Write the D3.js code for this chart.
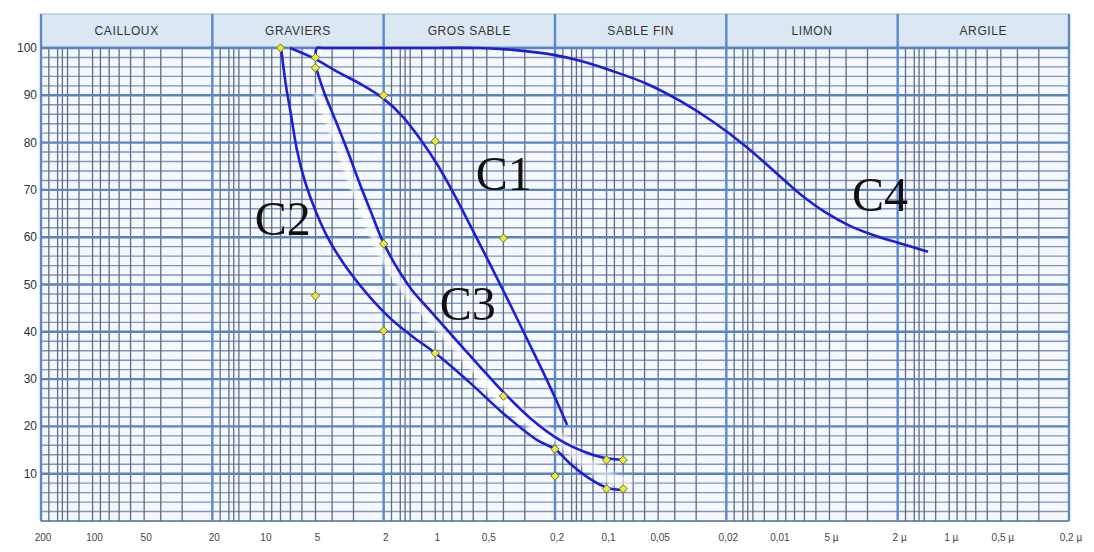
<!DOCTYPE html>
<html>
<head>
<meta charset="utf-8">
<script src="https://cdn.jsdelivr.net/npm/d3@7"></script>
<style>
  html, body { margin: 0; padding: 0; background: #fff; }
  svg { display: block; }
</style>
</head>
<body>
<svg id="chart"></svg>
<script>
// grain size classes (mm bounds)
const classNames = ["CAILLOUX", "GRAVIERS", "GROS SABLE", "SABLE FIN", "LIMON", "ARGILE"];
const classBounds = [200, 20, 2, 0.2, 0.02, 0.002, 0.0002];

const tickValues = [200, 100, 50, 20, 10, 5, 2, 1, 0.5, 0.2, 0.1, 0.05, 0.02, 0.01, 0.005, 0.002, 0.001, 0.0005, 0.0002];
const tickLabels = ["200", "100", "50", "20", "10", "5", "2", "1", "0,5", "0,2", "0,1", "0,05", "0,02", "0,01", "5 µ", "2 µ", "1 µ", "0,5 µ", "0,2 µ"];
const yTicks = [100, 90, 80, 70, 60, 50, 40, 30, 20, 10];

// curves: diameter (mm) / percent passing
const c1Diam = [7.04, 5.17, 3.69, 2.67, 2.02, 1.54, 1.21, 0.963, 0.766, 0.609, 0.479, 0.376, 0.295, 0.232, 0.192, 0.17];
const c1Pct  = [100, 97.9, 94.9, 92.2, 89.4, 85.4, 80.5, 75.1, 68.7, 61.7, 54.3, 46.7, 38.9, 31.1, 24.7, 20.3];

const c2Diam = [7.94, 7.43, 6.94, 6.41, 5.75, 4.96, 4.11, 3.23, 2.47, 1.835, 1.347, 1.0, 0.626, 0.402, 0.254, 0.2, 0.163, 0.125, 0.099, 0.079];
const c2Pct  = [100, 92.0, 85.8, 78.4, 71.7, 65.3, 59.0, 53.1, 47.8, 42.9, 38.9, 35.5, 29.2, 22.8, 17.1, 15.2, 12.1, 8.9, 7.0, 6.6];

const c3Diam = [4.96, 4.46, 3.79, 3.23, 2.75, 2.37, 2.04, 1.72, 1.365, 1.043, 0.766, 0.547, 0.407, 0.28, 0.187, 0.134, 0.102, 0.08];
const c3Pct  = [95.8, 90.7, 84.4, 78.0, 71.2, 65.3, 59.4, 54.3, 48.8, 44.0, 38.5, 32.6, 27.5, 21.8, 17.1, 14.6, 13.3, 12.9];

const c4Diam = [5.0, 4.9, 4.5, 2, 1, 0.547, 0.351, 0.2, 0.143, 0.0916, 0.058, 0.0372, 0.0239, 0.0155, 0.0104, 0.0074, 0.0053, 0.0038, 0.0027, 0.0019, 0.00133];
const c4Pct  = [98.2, 100, 100, 100, 100, 100, 99.6, 98.5, 97.3, 95.1, 92.4, 88.8, 84.4, 79.3, 73.8, 69.1, 65.3, 62.4, 60.3, 58.6, 56.9];

// measured sample points
const markerDiam = [8, 5, 5, 2, 1, 0.4, 5, 2, 2, 1, 0.4, 0.2, 0.2, 0.1, 0.08, 0.1, 0.08];
const markerPct  = [100, 98, 95.8, 90, 80.3, 59.8, 47.6, 58.6, 40.2, 35.5, 26.4, 15.2, 9.5, 12.9, 12.9, 6.8, 6.8];

const labelNames = ["C1", "C2", "C3", "C4"];
const labelDiam = [0.58, 11.3, 0.94, 0.0037];
const labelPct  = [70, 60.5, 42.5, 65.5];

const width = 1094, height = 552;
const plotLeft = 41, plotRight = 1069, plotTop = 48, plotBottom = 521;

const svg = d3.select("#chart").attr("width", width).attr("height", height);

const x = d3.scaleLog().domain([200, 0.0002]).range([plotLeft, plotRight]);
const y = d3.scaleLinear().domain([0, 100]).range([plotBottom, plotTop]);

const defs = svg.append("defs");
defs.append("filter").attr("id", "soft")
    .attr("x", "-20%").attr("y", "-20%").attr("width", "140%").attr("height", "140%")
    .append("feGaussianBlur").attr("stdDeviation", 1.6);

// plot background
svg.append("rect")
    .attr("x", plotLeft).attr("y", plotTop)
    .attr("width", plotRight - plotLeft).attr("height", plotBottom - plotTop)
    .attr("fill", "#f5f9fe");

// header band
svg.append("rect")
    .attr("x", plotLeft).attr("y", 14)
    .attr("width", plotRight - plotLeft).attr("height", plotTop - 15)
    .attr("fill", "#dce7f4")
    .attr("stroke", "#9db4d6")
    .attr("stroke-width", 1);

const grid = svg.append("g");

// minor horizontal lines every 2%
const minorY = d3.range(2, 100, 2).filter(v => v % 10 !== 0);
grid.selectAll(".hminor").data(minorY).enter().append("line")
    .attr("x1", plotLeft).attr("x2", plotRight)
    .attr("y1", d => y(d)).attr("y2", d => y(d))
    .attr("stroke", "#7f96ba").attr("stroke-width", 1.4);

// minor vertical lines
const minorSteps = [0.9, 0.8, 0.75, 0.7, 0.6, 0.5, 0.45, 0.4, 0.35, 0.3, 0.25, 0.2, 0.15];
const minorX = [];
classBounds.slice(0, -1).forEach(b => minorSteps.forEach(s => minorX.push(b * s)));
grid.selectAll(".vminor").data(minorX).enter().append("line")
    .attr("x1", d => x(d)).attr("x2", d => x(d))
    .attr("y1", plotTop).attr("y2", plotBottom)
    .attr("stroke", "#5f6c82").attr("stroke-width", 1.3);

// major horizontal lines
grid.selectAll(".hmajor").data(yTicks).enter().append("line")
    .attr("x1", plotLeft).attr("x2", plotRight)
    .attr("y1", d => y(d)).attr("y2", d => y(d))
    .attr("stroke", "#5b82c2").attr("stroke-width", 2.4);

// bottom edge
grid.append("line")
    .attr("x1", plotLeft).attr("x2", plotRight)
    .attr("y1", plotBottom).attr("y2", plotBottom)
    .attr("stroke", "#4a6a9c").attr("stroke-width", 1.6);

// decade / class boundaries
grid.selectAll(".vmajor").data(classBounds).enter().append("line")
    .attr("x1", d => x(d)).attr("x2", d => x(d))
    .attr("y1", 14).attr("y2", plotBottom)
    .attr("stroke", "#5b88cc").attr("stroke-width", 2.4);

// class names
svg.selectAll(".cls").data(classNames).enter().append("text")
    .attr("x", (d, i) => (x(classBounds[i]) + x(classBounds[i + 1])) / 2)
    .attr("y", 35)
    .attr("text-anchor", "middle")
    .attr("font-family", "Liberation Sans, Arial, sans-serif")
    .attr("font-size", 12)
    .attr("letter-spacing", 0.6)
    .attr("fill", "#333")
    .text(d => d);

// y labels
svg.selectAll(".ylab").data(yTicks).enter().append("text")
    .attr("x", 37).attr("y", d => y(d) + 4)
    .attr("text-anchor", "end")
    .attr("font-family", "Liberation Sans, Arial, sans-serif")
    .attr("font-size", 12)
    .attr("fill", "#333")
    .text(d => d);

// x labels
svg.selectAll(".xlab").data(tickValues).enter().append("text")
    .attr("x", d => x(d) + 2).attr("y", 541)
    .attr("text-anchor", "middle")
    .attr("font-family", "Liberation Sans Narrow, Liberation Sans, Arial, sans-serif")
    .attr("font-size", 10)
    .attr("fill", "#444")
    .text((d, i) => tickLabels[i]);

// curves
const line = d3.line()
    .x(d => x(d[0]))
    .y(d => y(d[1]))
    .curve(d3.curveCatmullRom.alpha(0.5));

const curves = [
    d3.zip(c1Diam, c1Pct),
    d3.zip(c2Diam, c2Pct),
    d3.zip(c3Diam, c3Pct),
    d3.zip(c4Diam, c4Pct)
];

// white smudges along C3 and the lower ends (as in the scan)
const smudge = svg.append("g")
    .attr("fill", "none")
    .attr("stroke", "#ffffff")
    .attr("filter", "url(#soft)");
smudge.append("path")
    .attr("d", line(curves[2].slice(1, 15)))
    .attr("transform", "translate(-7,0)")
    .attr("stroke-opacity", 0.7)
    .attr("stroke-width", 8);
smudge.append("path")
    .attr("d", line(curves[1].slice(12)))
    .attr("transform", "translate(8,-8)")
    .attr("stroke-opacity", 0.6)
    .attr("stroke-width", 12);

svg.selectAll(".curve").data(curves).enter().append("path")
    .attr("d", d => line(d))
    .attr("fill", "none")
    .attr("stroke", "#1f1fd2")
    .attr("stroke-width", 2.6)
    .attr("stroke-linejoin", "round");

// markers
const markers = d3.zip(markerDiam, markerPct);
svg.selectAll(".mk").data(markers).enter().append("path")
    .attr("d", d3.symbol().type(d3.symbolDiamond2).size(44))
    .attr("transform", d => `translate(${x(d[0])},${y(d[1])})`)
    .attr("fill", "#eaea3c")
    .attr("stroke", "#6f7020")
    .attr("stroke-width", 1);

// curve labels
svg.selectAll(".clab").data(labelNames).enter().append("text")
    .attr("x", (d, i) => x(labelDiam[i]))
    .attr("y", (d, i) => y(labelPct[i]))
    .attr("font-family", "Liberation Serif, Times New Roman, serif")
    .attr("font-size", 48)
    .attr("fill", "#111")
    .text(d => d);
</script>
</body>
</html>
